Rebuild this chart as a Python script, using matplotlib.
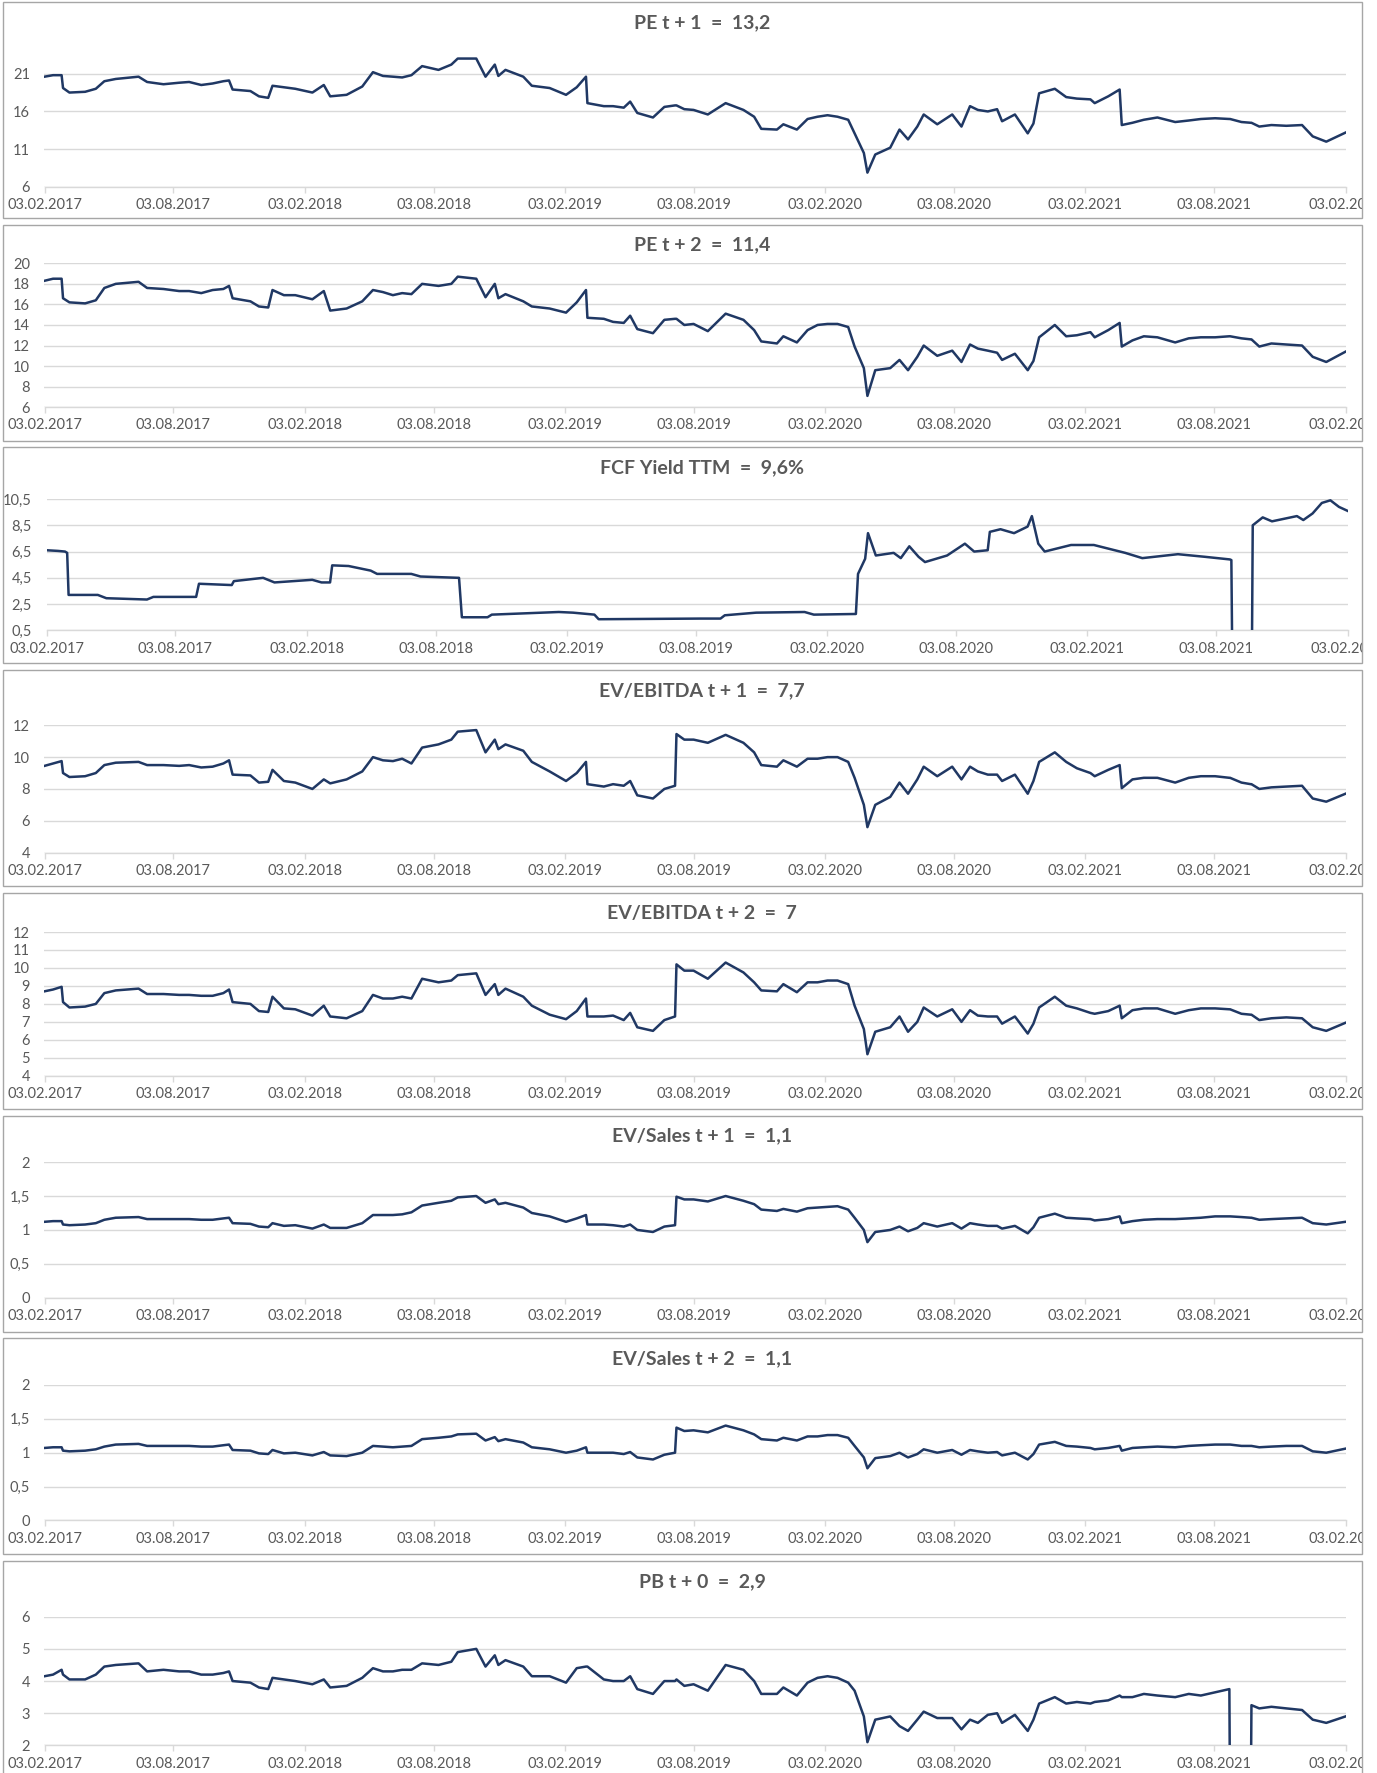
import matplotlib
matplotlib.use("Agg")
import matplotlib.pyplot as plt
import pandas as pd
from matplotlib.patches import Rectangle
from matplotlib.transforms import Bbox, TransformedBbox

# ---------------- data ----------------
dates = [
    "2017-02-03", "2017-02-15", "2017-02-27", "2017-03-01", "2017-03-10", "2017-04-01", "2017-04-16", "2017-04-28", "2017-05-14", "2017-06-15",
    "2017-06-27", "2017-08-11", "2017-09-11", "2017-10-12", "2017-10-20", "2017-10-25", "2017-11-19", "2017-12-01", "2017-12-14", "2017-12-20",
    "2018-01-21", "2018-02-14", "2018-03-02", "2018-03-11", "2018-04-03", "2018-04-25", "2018-05-10", "2018-06-07", "2018-07-03", "2018-07-18",
    "2018-08-10", "2018-08-28", "2018-09-06", "2018-10-02", "2018-10-15", "2018-10-28", "2018-11-02", "2018-11-12", "2018-12-07", "2018-12-19",
    "2019-01-13", "2019-02-05", "2019-02-20", "2019-03-05", "2019-03-07", "2019-03-30", "2019-04-27", "2019-05-06", "2019-05-16", "2019-06-07",
    "2019-06-23", "2019-07-08", "2019-07-10", "2019-07-21", "2019-08-03", "2019-08-23", "2019-09-17", "2019-10-12", "2019-10-27", "2019-11-06",
    "2019-11-28", "2019-12-07", "2019-12-26", "2020-01-10", "2020-02-07", "2020-03-07", "2020-03-16", "2020-03-29", "2020-04-03", "2020-04-14",
    "2020-05-05", "2020-05-18", "2020-05-30", "2020-06-12", "2020-06-21", "2020-07-10", "2020-07-31", "2020-08-13", "2020-08-25", "2020-09-19",
    "2020-10-02", "2020-10-09", "2020-10-27", "2020-11-14", "2020-11-22", "2020-11-30", "2020-12-22", "2021-01-07", "2021-02-10", "2021-02-16",
    "2021-03-07", "2021-03-23", "2021-03-26", "2021-04-26", "2021-06-09", "2021-08-04", "2021-08-24", "2021-08-25", "2021-09-10", "2021-09-23",
    "2021-09-24", "2021-10-05", "2021-11-12", "2021-12-04", "2021-12-19", "2022-01-07", "2022-02-03",
]
# additional readings inside the longer stretches
dates_extra = [
    "2017-07-20", "2017-08-25", "2017-09-27", "2018-01-05", "2018-05-24", "2018-06-20", "2019-04-12",
    "2020-01-24", "2020-02-21", "2020-09-05", "2021-01-22", "2021-04-10", "2021-05-15", "2021-06-28",
    "2021-07-15", "2021-10-22",
]

pe_t1 = [
    20.6, 20.8, 20.8, 19.1, 18.5, 18.6, 19.0, 20.0, 20.3, 20.6,
    19.9, 19.8, 19.5, 20.0, 20.1, 18.9, 18.7, 18.0, 17.8, 19.4,
    19.0, 18.5, 19.5, 18.0, 18.2, 19.3, 21.2, 20.6, 20.8, 22.0,
    21.5, 22.2, 23.0, 23.0, 20.6, 22.2, 20.7, 21.5, 20.6, 19.4,
    19.1, 18.2, 19.2, 20.6, 17.1, 16.7, 16.5, 17.3, 15.8, 15.2,
    16.6, 16.8, 16.8, 16.3, 16.2, 15.6, 17.1, 16.2, 15.3, 13.7,
    13.6, 14.3, 13.6, 15.0, 15.5, 14.9, 13.1, 10.5, 7.9, 10.3,
    11.2, 13.6, 12.3, 14.0, 15.6, 14.3, 15.6, 14.0, 16.7, 16.0,
    16.3, 14.7, 15.6, 13.1, 14.4, 18.4, 19.0, 17.9, 17.6, 17.1,
    18.0, 18.9, 14.2, 14.9, 14.6, 15.1, 15.0, 15.0, 14.6, 14.5,
    14.5, 14.0, 14.1, 14.2, 12.7, 12.0, 13.2,
]
pe_t1_extra = [19.6, 19.9, 19.7, 19.2, 20.7, 20.5, 16.7, 15.3, 15.3, 16.2, 17.7, 14.5, 15.2, 14.8, 15.0, 14.2]

pe_t2 = [
    18.3, 18.5, 18.5, 16.6, 16.2, 16.1, 16.4, 17.6, 18.0, 18.2,
    17.6, 17.3, 17.1, 17.5, 17.8, 16.6, 16.3, 15.8, 15.7, 17.4,
    16.9, 16.5, 17.3, 15.4, 15.6, 16.3, 17.4, 16.9, 17.0, 18.0,
    17.8, 18.0, 18.7, 18.5, 16.7, 18.0, 16.6, 17.0, 16.3, 15.8,
    15.6, 15.2, 16.2, 17.4, 14.7, 14.6, 14.2, 14.9, 13.6, 13.2,
    14.5, 14.6, 14.6, 14.0, 14.1, 13.4, 15.1, 14.5, 13.5, 12.4,
    12.2, 12.9, 12.3, 13.5, 14.1, 13.8, 11.9, 9.8, 7.1, 9.6,
    9.8, 10.6, 9.6, 10.9, 12.0, 11.0, 11.5, 10.4, 12.1, 11.5,
    11.3, 10.6, 11.2, 9.6, 10.5, 12.8, 14.0, 12.9, 13.3, 12.8,
    13.5, 14.2, 11.9, 12.9, 12.3, 12.8, 12.9, 12.9, 12.7, 12.6,
    12.6, 11.9, 12.1, 12.0, 10.9, 10.4, 11.4,
]
pe_t2_extra = [17.5, 17.3, 17.4, 16.9, 17.2, 17.1, 14.3, 14.0, 14.1, 11.7, 13.0, 12.5, 12.8, 12.7, 12.8, 12.2]

ev_ebitda_t1 = [
    9.45, 9.6, 9.75, 9.0, 8.75, 8.8, 9.0, 9.5, 9.65, 9.7,
    9.5, 9.45, 9.35, 9.6, 9.8, 8.9, 8.85, 8.4, 8.45, 9.2,
    8.4, 8.0, 8.6, 8.35, 8.6, 9.1, 10.0, 9.75, 9.6, 10.6,
    10.8, 11.1, 11.6, 11.7, 10.3, 11.1, 10.5, 10.8, 10.4, 9.7,
    9.1, 8.5, 9.0, 9.7, 8.3, 8.15, 8.2, 8.5, 7.6, 7.4,
    8.0, 8.2, 11.45, 11.1, 11.1, 10.9, 11.4, 10.9, 10.3, 9.5,
    9.4, 9.8, 9.4, 9.9, 10.0, 9.7, 8.7, 7.0, 5.6, 7.0,
    7.5, 8.4, 7.7, 8.6, 9.4, 8.8, 9.4, 8.6, 9.4, 8.9,
    8.9, 8.5, 8.9, 7.7, 8.5, 9.7, 10.3, 9.7, 9.0, 8.8,
    9.2, 9.5, 8.05, 8.7, 8.4, 8.8, 8.7, 8.7, 8.4, 8.3,
    8.3, 8.0, 8.15, 8.2, 7.4, 7.2, 7.7,
]
ev_ebitda_t1_extra = [9.5, 9.5, 9.4, 8.5, 9.8, 9.9, 8.3, 9.9, 10.0, 9.1, 9.3, 8.6, 8.7, 8.7, 8.8, 8.1]

ev_ebitda_t2 = [
    8.7, 8.8, 8.95, 8.1, 7.8, 7.85, 8.0, 8.6, 8.75, 8.85,
    8.55, 8.5, 8.45, 8.6, 8.8, 8.1, 8.0, 7.6, 7.55, 8.4,
    7.7, 7.35, 7.9, 7.3, 7.2, 7.6, 8.5, 8.3, 8.3, 9.4,
    9.2, 9.3, 9.6, 9.7, 8.5, 9.1, 8.5, 8.85, 8.4, 7.9,
    7.4, 7.15, 7.6, 8.3, 7.3, 7.3, 7.1, 7.5, 6.7, 6.5,
    7.1, 7.3, 10.2, 9.85, 9.85, 9.4, 10.3, 9.75, 9.2, 8.75,
    8.7, 9.1, 8.65, 9.2, 9.3, 9.1, 7.9, 6.6, 5.2, 6.45,
    6.7, 7.3, 6.45, 7.0, 7.8, 7.3, 7.7, 7.0, 7.65, 7.3,
    7.3, 6.9, 7.3, 6.35, 6.9, 7.8, 8.4, 7.9, 7.5, 7.45,
    7.6, 7.9, 7.2, 7.75, 7.45, 7.75, 7.7, 7.7, 7.45, 7.4,
    7.4, 7.1, 7.25, 7.2, 6.7, 6.5, 6.95,
]
ev_ebitda_t2_extra = [8.55, 8.5, 8.45, 7.75, 8.3, 8.4, 7.35, 9.2, 9.3, 7.35, 7.75, 7.65, 7.75, 7.65, 7.75, 7.2]

ev_sales_t1 = [
    1.12, 1.13, 1.13, 1.08, 1.07, 1.08, 1.10, 1.15, 1.18, 1.19,
    1.16, 1.16, 1.15, 1.17, 1.18, 1.10, 1.09, 1.05, 1.04, 1.10,
    1.07, 1.02, 1.08, 1.03, 1.03, 1.10, 1.22, 1.22, 1.26, 1.36,
    1.40, 1.43, 1.48, 1.50, 1.40, 1.45, 1.38, 1.40, 1.33, 1.25,
    1.20, 1.12, 1.17, 1.22, 1.08, 1.08, 1.05, 1.08, 1.00, 0.97,
    1.05, 1.07, 1.49, 1.45, 1.45, 1.42, 1.50, 1.43, 1.38, 1.30,
    1.28, 1.31, 1.27, 1.32, 1.34, 1.30, 1.18, 1.00, 0.82, 0.97,
    1.00, 1.05, 0.98, 1.03, 1.10, 1.05, 1.10, 1.02, 1.10, 1.06,
    1.06, 1.02, 1.06, 0.95, 1.04, 1.18, 1.24, 1.18, 1.16, 1.14,
    1.16, 1.20, 1.10, 1.15, 1.16, 1.20, 1.20, 1.20, 1.19, 1.18,
    1.18, 1.15, 1.17, 1.18, 1.10, 1.08, 1.12,
]
ev_sales_t1_extra = [1.16, 1.16, 1.15, 1.06, 1.22, 1.23, 1.07, 1.33, 1.35, 1.08, 1.17, 1.13, 1.16, 1.17, 1.18, 1.16]

ev_sales_t2 = [
    1.07, 1.08, 1.08, 1.03, 1.02, 1.03, 1.05, 1.09, 1.12, 1.13,
    1.10, 1.10, 1.09, 1.11, 1.12, 1.04, 1.03, 0.99, 0.98, 1.04,
    1.00, 0.96, 1.01, 0.96, 0.95, 1.00, 1.10, 1.08, 1.10, 1.20,
    1.22, 1.24, 1.27, 1.28, 1.18, 1.23, 1.17, 1.20, 1.15, 1.08,
    1.05, 1.00, 1.03, 1.08, 1.00, 1.00, 0.98, 1.01, 0.93, 0.90,
    0.97, 1.00, 1.37, 1.32, 1.33, 1.30, 1.40, 1.33, 1.27, 1.20,
    1.18, 1.22, 1.18, 1.24, 1.26, 1.22, 1.10, 0.93, 0.77, 0.92,
    0.95, 1.00, 0.93, 0.98, 1.05, 1.00, 1.04, 0.97, 1.04, 1.00,
    1.01, 0.96, 1.00, 0.90, 0.98, 1.12, 1.16, 1.10, 1.07, 1.05,
    1.07, 1.10, 1.03, 1.08, 1.08, 1.12, 1.12, 1.12, 1.10, 1.10,
    1.10, 1.08, 1.10, 1.10, 1.02, 1.00, 1.06,
]
ev_sales_t2_extra = [1.10, 1.10, 1.09, 0.99, 1.09, 1.09, 1.00, 1.24, 1.26, 1.02, 1.09, 1.07, 1.09, 1.10, 1.11, 1.09]

pb_t0 = [
    4.15, 4.2, 4.35, 4.2, 4.05, 4.05, 4.2, 4.45, 4.5, 4.55,
    4.3, 4.3, 4.2, 4.25, 4.3, 4.0, 3.95, 3.8, 3.75, 4.1,
    4.0, 3.9, 4.05, 3.8, 3.85, 4.1, 4.4, 4.3, 4.35, 4.55,
    4.5, 4.6, 4.9, 5.0, 4.45, 4.8, 4.5, 4.65, 4.45, 4.15,
    4.15, 3.95, 4.4, 4.45, 4.45, 4.05, 4.0, 4.15, 3.75, 3.6,
    4.0, 4.0, 4.05, 3.85, 3.9, 3.7, 4.5, 4.35, 4.0, 3.6,
    3.6, 3.8, 3.55, 3.95, 4.15, 3.95, 3.7, 2.9, 2.1, 2.8,
    2.9, 2.6, 2.45, 2.8, 3.05, 2.85, 2.85, 2.5, 2.8, 2.95,
    3.0, 2.7, 2.95, 2.45, 2.8, 3.3, 3.5, 3.3, 3.3, 3.35,
    3.4, 3.55, 3.5, 3.6, 3.5, 3.65, 3.75, 0.0, 0.0, 0.0,
    3.25, 3.15, 3.15, 3.1, 2.8, 2.7, 2.9,
]
pb_t0_extra = [4.35, 4.3, 4.2, 4.05, 4.3, 4.35, 4.0, 4.1, 4.1, 2.7, 3.35, 3.5, 3.55, 3.6, 3.55, 3.2]

fcf_dates = [
    "2017-02-03", "2017-02-19", "2017-03-01", "2017-03-04", "2017-03-06", "2017-04-16", "2017-04-28", "2017-06-24", "2017-07-03", "2017-09-01",
    "2017-09-05", "2017-10-21", "2017-10-24", "2017-12-04", "2017-12-20", "2018-02-11", "2018-02-24", "2018-03-08", "2018-03-11", "2018-04-03",
    "2018-05-04", "2018-05-13", "2018-06-30", "2018-07-13", "2018-09-05", "2018-09-09", "2018-10-15", "2018-10-21", "2019-01-23", "2019-02-12",
    "2019-03-14", "2019-03-20", "2019-08-10", "2019-09-07", "2019-09-13", "2019-10-27", "2020-01-03", "2020-01-16", "2020-03-15", "2020-03-18",
    "2020-03-28", "2020-04-01", "2020-04-12", "2020-05-07", "2020-05-17", "2020-05-29", "2020-06-11", "2020-06-20", "2020-07-21", "2020-08-15",
    "2020-08-28", "2020-09-16", "2020-09-19", "2020-10-04", "2020-10-23", "2020-11-11", "2020-11-17", "2020-11-26", "2020-12-05", "2021-01-11",
    "2021-02-12", "2021-03-28", "2021-04-21", "2021-06-10", "2021-07-18", "2021-08-22", "2021-08-24", "2021-08-25", "2021-09-22", "2021-09-23",
    "2021-10-07", "2021-10-20", "2021-11-24", "2021-12-03", "2021-12-16", "2021-12-29", "2022-01-10", "2022-01-22", "2022-02-03",
]
fcf_yield_ttm = [
    6.6, 6.55, 6.5, 6.4, 3.2, 3.2, 2.95, 2.85, 3.05, 3.05,
    4.05, 3.95, 4.25, 4.5, 4.15, 4.35, 4.15, 4.15, 5.45, 5.4,
    5.05, 4.8, 4.8, 4.6, 4.5, 1.5, 1.5, 1.7, 1.9, 1.85,
    1.7, 1.35, 1.4, 1.4, 1.65, 1.85, 1.9, 1.7, 1.75, 4.8,
    5.95, 7.9, 6.2, 6.4, 6.0, 6.9, 6.1, 5.7, 6.2, 7.1,
    6.5, 6.6, 8.0, 8.2, 7.9, 8.4, 9.2, 7.1, 6.5, 7.0,
    7.0, 6.4, 6.0, 6.3, 6.1, 5.9, 5.85, 0.0, 0.0, 8.5,
    9.1, 8.8, 9.2, 8.9, 9.4, 10.2, 10.4, 9.9, 9.6,
]

titles = ["PE t + 1  =  13,2", "PE t + 2  =  11,4", "FCF Yield TTM  =  9,6%", "EV/EBITDA t + 1  =  7,7",
          "EV/EBITDA t + 2  =  7", "EV/Sales t + 1  =  1,1", "EV/Sales t + 2  =  1,1", "PB t + 0  =  2,9"]
x_tick_dates = ["2017-02-03", "2017-08-03", "2018-02-03", "2018-08-03", "2019-02-03", "2019-08-03",
                "2020-02-03", "2020-08-03", "2021-02-03", "2021-08-03", "2022-02-03"]
x_tick_labels = ["03.02.2017", "03.08.2017", "03.02.2018", "03.08.2018", "03.02.2019", "03.08.2019",
                 "03.02.2020", "03.08.2020", "03.02.2021", "03.08.2021", "03.02.2022"]
y_ticks = [[6, 11, 16, 21], [6, 8, 10, 12, 14, 16, 18, 20], [0.5, 2.5, 4.5, 6.5, 8.5, 10.5],
           [4, 6, 8, 10, 12], [4, 5, 6, 7, 8, 9, 10, 11, 12], [0, 0.5, 1, 1.5, 2], [0, 0.5, 1, 1.5, 2],
           [2, 3, 4, 5, 6]]
y_tick_labels = [["6", "11", "16", "21"], ["6", "8", "10", "12", "14", "16", "18", "20"],
                 ["0,5", "2,5", "4,5", "6,5", "8,5", "10,5"], ["4", "6", "8", "10", "12"],
                 ["4", "5", "6", "7", "8", "9", "10", "11", "12"], ["0", "0,5", "1", "1,5", "2"],
                 ["0", "0,5", "1", "1,5", "2"], ["2", "3", "4", "5", "6"]]
y_limits = [(6, 24), (6, 20), (0.5, 10.5), (4, 12), (4, 12), (0, 2), (0, 2), (2, 6)]

# ---------------- layout (pixels) ----------------
W, H = 1377, 1773
panel_step = 222.7
box_h = 216
ax_top_off = [49, 38.6, 51.6, 55.2, 39.2, 46.6, 46.7, 55.8]
ax_bot_off = [185, 182.5, 183, 182.5, 183, 182.3, 182.3, 184.5]
ax_left, ax_right = 44.5, 1345.5

LINE = "#203864"
GRID = "#d9d9d9"
TXT = "#595959"
FONT = ["Lato", "DejaVu Sans"]

plt.rcParams["font.family"] = FONT

fig = plt.figure(figsize=(W / 100, H / 100), dpi=100)
fig.patch.set_facecolor("white")


def combined(base, extra):
    s = pd.Series(base + extra, index=pd.to_datetime(dates + dates_extra))
    return s.sort_index()


series = [combined(pe_t1, pe_t1_extra), combined(pe_t2, pe_t2_extra),
          pd.Series(fcf_yield_ttm, index=pd.to_datetime(fcf_dates)),
          combined(ev_ebitda_t1, ev_ebitda_t1_extra), combined(ev_ebitda_t2, ev_ebitda_t2_extra),
          combined(ev_sales_t1, ev_sales_t1_extra), combined(ev_sales_t2, ev_sales_t2_extra),
          combined(pb_t0, pb_t0_extra)]
xt = pd.to_datetime(x_tick_dates)

for i in range(8):
    T = 2 + i * panel_step
    box_bottom = 1 - (T + box_h) / H
    rect = Rectangle((3 / W, box_bottom), 1359 / W, box_h / H, transform=fig.transFigure,
                     fill=False, edgecolor="#a6a6a6", linewidth=1.0, zorder=0)
    fig.patches.append(rect)
    clipbb = TransformedBbox(Bbox.from_extents(3 / W, box_bottom, 1362 / W, 1 - T / H), fig.transFigure)

    x0 = ax_left + (2 if i == 2 else 0)
    ax = fig.add_axes([x0 / W, 1 - (T + ax_bot_off[i]) / H, (ax_right - ax_left) / W,
                       (ax_bot_off[i] - ax_top_off[i]) / H])
    s = series[i]
    ax.plot(s.index, s.values, color=LINE, linewidth=1.8, solid_joinstyle="round", zorder=3)
    ax.set_xlim(xt[0], xt[-1])
    ax.set_ylim(*y_limits[i])
    ax.set_yticks(y_ticks[i])
    ax.set_yticklabels(y_tick_labels[i])
    ax.set_xticks(xt)
    ax.set_xticklabels(x_tick_labels)
    ax.grid(axis="y", color=GRID, linewidth=1.0)
    ax.set_axisbelow(True)
    for sp in ["top", "right", "left"]:
        ax.spines[sp].set_visible(False)
    ax.spines["bottom"].set_color(GRID)
    ax.spines["bottom"].set_linewidth(1.0)
    ax.tick_params(axis="y", length=0, pad=10.5, labelsize=10.5, labelcolor=TXT)
    ax.tick_params(axis="x", length=4, width=1, color=GRID, direction="out", pad=4,
                   labelsize=10.5, labelcolor=TXT)
    for lbl in ax.get_xticklabels():
        lbl.set_clip_box(clipbb)
        lbl.set_clip_on(True)
    ax.set_facecolor("none")
    fig.text(702 / W, 1 - (T + 20.5) / H, titles[i], ha="center", va="center",
             fontsize=14, fontweight="bold", color=TXT)

fig.savefig("out.png", dpi=100, facecolor="white")
